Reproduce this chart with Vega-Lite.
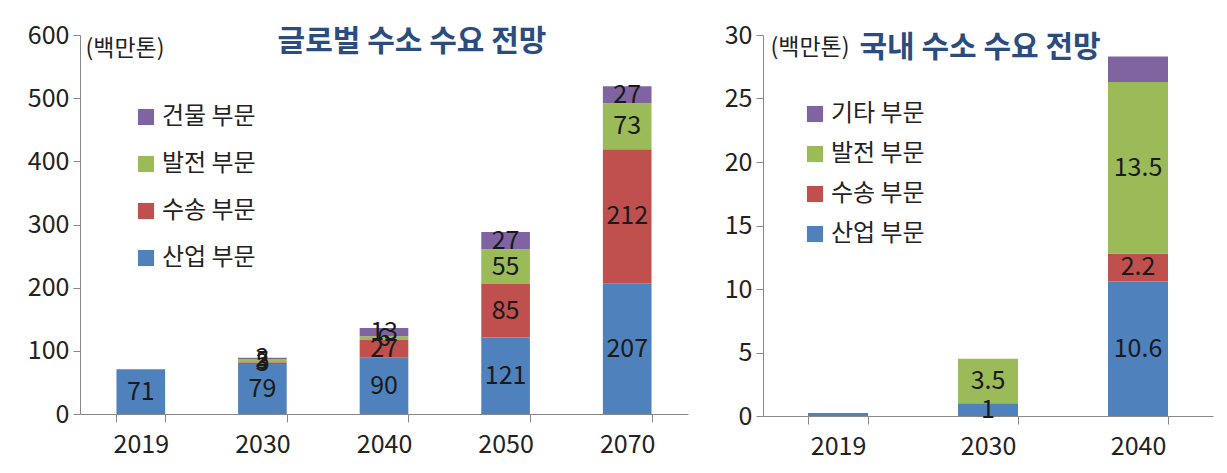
{
  "$schema": "https://vega.github.io/schema/vega-lite/v6.json",
  "background": "white",
  "padding": {"left": 27, "top": 23, "right": 5, "bottom": 5},
  "spacing": 36,
  "config": {
    "view": {"stroke": null},
    "font": "Noto Sans CJK KR",
    "axis": {
      "labelFont": "Noto Sans CJK KR",
      "labelFontSize": 25,
      "labelColor": "#222222",
      "domainColor": "#888888",
      "tickColor": "#888888",
      "grid": false
    },
    "legend": {
      "labelFont": "Noto Sans CJK KR",
      "labelFontSize": 24,
      "labelColor": "#222222",
      "symbolType": "square",
      "symbolSize": 260,
      "symbolStrokeWidth": 0,
      "title": null
    },
    "title": {
      "font": "Noto Sans CJK KR",
      "fontSize": 30,
      "fontWeight": "bold",
      "color": "#2B4C7E"
    }
  },
  "datasets": {
    "global": [
      {"year": "2019", "sector": "산업 부문", "value": 71, "label": "71"},
      {"year": "2030", "sector": "산업 부문", "value": 79, "label": "79"},
      {"year": "2030", "sector": "수송 부문", "value": 3, "label": "3"},
      {"year": "2030", "sector": "발전 부문", "value": 5, "label": "5"},
      {"year": "2030", "sector": "건물 부문", "value": 2, "label": "2"},
      {"year": "2040", "sector": "산업 부문", "value": 90, "label": "90"},
      {"year": "2040", "sector": "수송 부문", "value": 27, "label": "27"},
      {"year": "2040", "sector": "발전 부문", "value": 6, "label": "6"},
      {"year": "2040", "sector": "건물 부문", "value": 13, "label": "13"},
      {"year": "2050", "sector": "산업 부문", "value": 121, "label": "121"},
      {"year": "2050", "sector": "수송 부문", "value": 85, "label": "85"},
      {"year": "2050", "sector": "발전 부문", "value": 55, "label": "55"},
      {"year": "2050", "sector": "건물 부문", "value": 27, "label": "27"},
      {"year": "2070", "sector": "산업 부문", "value": 207, "label": "207"},
      {"year": "2070", "sector": "수송 부문", "value": 212, "label": "212"},
      {"year": "2070", "sector": "발전 부문", "value": 73, "label": "73"},
      {"year": "2070", "sector": "건물 부문", "value": 27, "label": "27"}
    ],
    "domestic": [
      {"year": "2019", "sector": "산업 부문", "value": 0.23, "label": null},
      {"year": "2030", "sector": "산업 부문", "value": 1, "label": "1"},
      {"year": "2030", "sector": "발전 부문", "value": 3.5, "label": "3.5"},
      {"year": "2040", "sector": "산업 부문", "value": 10.6, "label": "10.6"},
      {"year": "2040", "sector": "수송 부문", "value": 2.2, "label": "2.2"},
      {"year": "2040", "sector": "발전 부문", "value": 13.5, "label": "13.5"},
      {"year": "2040", "sector": "기타 부문", "value": 2.0, "label": null}
    ]
  },
  "hconcat": [
    {
      "data": {"name": "global"},
      "width": 608,
      "height": 379,
      "title": {"text": "글로벌 수소 수요 전망", "offset": -34, "dx": 28},
      "transform": [
        {"calculate": "indexof(['산업 부문','수송 부문','발전 부문','건물 부문'], datum.sector)", "as": "rank"},
        {"stack": "value", "groupby": ["year"], "sort": [{"field": "rank"}], "as": ["v0", "v1"]},
        {"calculate": "(datum.v0 + datum.v1) / 2", "as": "mid"}
      ],
      "encoding": {
        "x": {
          "field": "year", "type": "nominal",
          "scale": {"paddingInner": 0.6, "paddingOuter": 0.3},
          "axis": {"title": null, "labelAngle": 0, "tickBand": "extent", "tickSize": 8, "labelPadding": 10}
        }
      },
      "layer": [
        {
          "mark": {"type": "bar"},
          "encoding": {
            "y": {
              "field": "v1", "type": "quantitative",
              "scale": {"domain": [0, 600]},
              "axis": {
                "values": [0, 100, 200, 300, 400, 500, 600],
                "tickSize": 7, "labelPadding": 4,
                "title": "(백만톤)", "titleAngle": 0, "titleX": 5, "titleY": 13,
                "titleAlign": "left", "titleBaseline": "middle",
                "titleFont": "Noto Sans CJK KR", "titleFontSize": 23, "titleFontWeight": "normal", "titleColor": "#222222"
              }
            },
            "y2": {"field": "v0"},
            "color": {
              "field": "sector", "type": "nominal",
              "scale": {
                "domain": ["건물 부문", "발전 부문", "수송 부문", "산업 부문"],
                "range": ["#8064A2", "#9BBB59", "#C0504D", "#4F81BD"]
              },
              "legend": {"orient": "none", "legendX": 54, "legendY": 70, "rowPadding": 23}
            }
          }
        },
        {
          "transform": [{"filter": "datum.label != null"}],
          "mark": {"type": "text", "fontSize": 25, "color": "#1a1a1a", "baseline": "middle"},
          "encoding": {
            "y": {"field": "mid", "type": "quantitative"},
            "text": {"field": "label"}
          }
        }
      ]
    },
    {
      "data": {"name": "domestic"},
      "width": 450,
      "height": 381,
      "title": {"text": "국내 수소 수요 전망", "offset": -40, "dx": -8},
      "transform": [
        {"calculate": "indexof(['산업 부문','수송 부문','발전 부문','기타 부문'], datum.sector)", "as": "rank"},
        {"stack": "value", "groupby": ["year"], "sort": [{"field": "rank"}], "as": ["v0", "v1"]},
        {"calculate": "(datum.v0 + datum.v1) / 2", "as": "mid"}
      ],
      "encoding": {
        "x": {
          "field": "year", "type": "nominal",
          "scale": {"paddingInner": 0.6, "paddingOuter": 0.3},
          "axis": {"title": null, "labelAngle": 0, "tickBand": "extent", "tickSize": 8, "labelPadding": 10}
        }
      },
      "layer": [
        {
          "mark": {"type": "bar"},
          "encoding": {
            "y": {
              "field": "v1", "type": "quantitative",
              "scale": {"domain": [0, 30]},
              "axis": {
                "values": [0, 5, 10, 15, 20, 25, 30],
                "tickSize": 7, "labelPadding": 4,
                "title": "(백만톤)", "titleAngle": 0, "titleX": 7, "titleY": 12,
                "titleAlign": "left", "titleBaseline": "middle",
                "titleFont": "Noto Sans CJK KR", "titleFontSize": 23, "titleFontWeight": "normal", "titleColor": "#222222"
              }
            },
            "y2": {"field": "v0"},
            "color": {
              "field": "sector", "type": "nominal",
              "scale": {
                "domain": ["기타 부문", "발전 부문", "수송 부문", "산업 부문"],
                "range": ["#8064A2", "#9BBB59", "#C0504D", "#4F81BD"]
              },
              "legend": {"orient": "none", "legendX": 40, "legendY": 67, "rowPadding": 16}
            }
          }
        },
        {
          "transform": [{"filter": "datum.label != null"}],
          "mark": {"type": "text", "fontSize": 25, "color": "#1a1a1a", "baseline": "middle"},
          "encoding": {
            "y": {"field": "mid", "type": "quantitative"},
            "text": {"field": "label"}
          }
        }
      ]
    }
  ],
  "resolve": {"scale": {"color": "independent"}}
}
